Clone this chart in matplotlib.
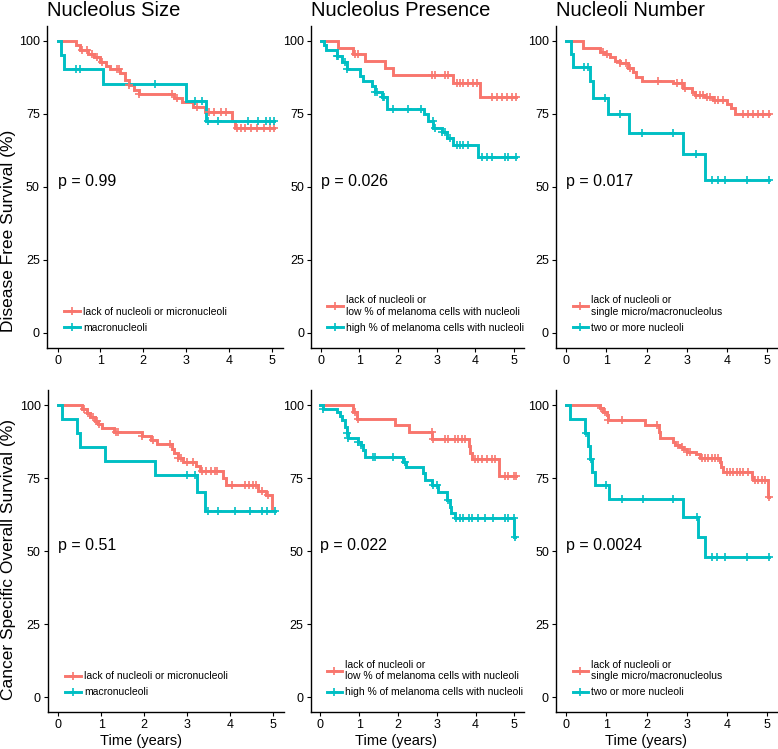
import matplotlib
matplotlib.use("Agg")
import matplotlib.pyplot as plt
from matplotlib.lines import Line2D
import numpy as np

plt.rcParams['font.family'] = ['Liberation Sans', 'DejaVu Sans']

RED = '#F8766D'
CYAN = '#00BFC4'

titles = ['Nucleolus Size', 'Nucleolus Presence', 'Nucleoli Number']
row_labels = ['Disease Free Survival (%)', 'Cancer Specific Overall Survival (%)']
pvals = ['p = 0.99', 'p = 0.026', 'p = 0.017', 'p = 0.51', 'p = 0.022', 'p = 0.0024']
legend_red = ['lack of nucleoli or micronucleoli',
              'lack of nucleoli or\nlow % of melanoma cells with nucleoli',
              'lack of nucleoli or\nsingle micro/macronucleolus']
legend_cyan = ['macronucleoli',
               'high % of melanoma cells with nucleoli',
               'two or more nucleoli']

# ---- Disease free survival ----
size_dfs_red_t = [0, 0.42, 0.53, 0.70, 0.85, 1.0, 1.12, 1.23, 1.46, 1.58, 1.66, 1.78, 1.89,
                  2.72, 2.9, 3.17, 3.45, 4.06, 4.14]
size_dfs_red_s = [100, 98.6, 97.0, 95.6, 94.4, 92.9, 91.5, 90.3, 88.9, 86.6, 84.9, 83.2, 81.8,
                  80.5, 79.0, 77.3, 75.6, 72.5, 70.0]
size_dfs_red_c = [0.57, 0.69, 0.81, 0.92, 1.04, 1.39, 1.43, 1.66, 1.9, 2.67, 2.79, 3.26, 3.53,
                  3.64, 3.8, 3.92, 4.19, 4.27, 4.38, 4.5, 4.65, 4.81, 4.96, 5.04]
size_dfs_cyan_t = [0, 0.09, 0.14, 1.06, 2.99, 3.46]
size_dfs_cyan_s = [100, 95.2, 90.5, 85.2, 79.5, 72.6]
size_dfs_cyan_c = [0.44, 0.53, 2.28, 3.2, 3.37, 3.52, 3.75, 4.45, 4.68, 4.87, 4.95, 5.05]

pres_dfs_red_t = [0, 0.46, 0.84, 1.15, 1.66, 1.88, 3.43, 4.12]
pres_dfs_red_s = [100, 97.7, 95.4, 93.0, 90.7, 88.4, 85.6, 80.9]
pres_dfs_red_c = [0.88, 0.97, 2.87, 2.96, 3.22, 3.3, 3.52, 3.6, 3.69, 3.82, 3.95, 4.03,
                  4.42, 4.55, 4.68, 4.81, 4.94, 5.05]
pres_dfs_cyan_t = [0, 0.09, 0.15, 0.41, 0.54, 0.67, 1.02, 1.10, 1.32, 1.40, 1.58, 1.71,
                   2.66, 2.78, 2.91, 3.13, 3.26, 3.43, 4.08]
pres_dfs_cyan_s = [100, 98.6, 96.7, 94.9, 92.9, 90.3, 87.8, 86.1, 84.4, 82.6, 80.9, 76.8,
                   75.0, 72.5, 70.0, 68.9, 66.6, 64.3, 60.3]
pres_dfs_cyan_c = [0.41, 0.46, 0.63, 0.68, 1.4, 1.45, 1.6, 1.65, 1.88, 2.27, 2.6, 2.9, 2.95,
                   3.13, 3.22, 3.35, 3.52, 3.6, 3.69, 3.82, 4.16, 4.29, 4.42, 4.77, 4.85, 5.05]

num_dfs_red_t = [0, 0.43, 0.84, 0.97, 1.09, 1.22, 1.34, 1.55, 1.67, 1.75, 1.88, 2.67, 2.91,
                 3.12, 3.2, 3.45, 3.66, 3.99, 4.11, 4.2]
num_dfs_red_s = [100, 97.5, 96.3, 95.5, 94.6, 93.2, 92.3, 90.6, 89.4, 87.7, 86.3, 85.4, 83.7,
                 82.5, 81.4, 80.6, 79.7, 78.5, 77.0, 75.0]
num_dfs_red_c = [0.93, 1.01, 1.34, 1.5, 1.59, 2.29, 2.75, 2.87, 2.95, 3.24, 3.33, 3.41, 3.49,
                 3.58, 3.7, 3.78, 3.91, 4.4, 4.53, 4.65, 4.78, 4.9, 5.05]
num_dfs_cyan_t = [0, 0.12, 0.17, 0.6, 0.68, 1.05, 1.57, 2.91, 3.45]
num_dfs_cyan_s = [100, 95.5, 90.9, 86.1, 80.4, 75.0, 68.6, 61.3, 52.4]
num_dfs_cyan_c = [0.45, 0.55, 0.97, 1.34, 1.88, 2.67, 3.24, 3.62, 3.78, 3.95, 4.49, 5.05]

# ---- Cancer specific overall survival ----
size_css_red_t = [0, 0.56, 0.66, 0.75, 0.85, 0.93, 1.02, 1.3, 1.95, 2.15, 2.3, 2.65, 2.7,
                  2.78, 2.9, 3.2, 3.3, 3.85, 3.92, 4.66, 4.85, 4.98]
size_css_red_s = [100, 98.6, 97.3, 96.0, 94.7, 93.4, 92.0, 90.7, 89.3, 87.9, 86.5, 85.0, 83.5,
                  82.0, 80.5, 79.0, 77.5, 75.0, 72.6, 70.5, 69.3, 64.5]
size_css_red_c = [0.6, 0.7, 0.8, 0.9, 0.95, 1.35, 1.4, 1.95, 2.2, 2.6, 2.8, 2.85, 3.0, 3.15,
                  3.35, 3.45, 3.55, 3.65, 3.7, 4.05, 4.35, 4.45, 4.55, 4.6, 4.75, 4.9]
size_css_cyan_t = [0, 0.08, 0.43, 0.5, 1.09, 2.25, 3.23, 3.43]
size_css_cyan_s = [100, 95.2, 90.5, 85.7, 81.0, 76.2, 70.3, 63.8]
size_css_cyan_c = [3.0, 3.19, 3.5, 3.73, 4.12, 4.47, 4.74, 4.86, 5.05]

pres_css_red_t = [0, 0.85, 0.95, 1.93, 2.28, 2.88, 3.82, 3.87, 3.92, 4.6]
pres_css_red_s = [100, 97.7, 95.3, 93.0, 90.7, 88.4, 86.0, 83.7, 81.4, 75.8]
pres_css_red_c = [0.9, 0.98, 2.87, 2.91, 3.21, 3.3, 3.47, 3.56, 3.64, 3.73, 3.99, 4.07, 4.16,
                  4.29, 4.42, 4.5, 4.76, 4.85, 4.98, 5.05]
pres_css_cyan_t = [0, 0.07, 0.42, 0.5, 0.55, 0.63, 0.68, 0.72, 0.98, 1.06, 1.11, 1.15, 2.14,
                   2.22, 2.65, 2.7, 2.87, 3.04, 3.26, 3.34, 3.38, 3.47, 5.0]
pres_css_cyan_s = [100, 98.6, 97.7, 96.4, 94.9, 92.6, 90.3, 88.6, 87.5, 86.3, 84.6, 82.3, 80.6,
                   78.9, 76.6, 74.3, 72.6, 70.3, 67.5, 65.2, 62.9, 61.4, 54.8]
pres_css_cyan_c = [0.07, 0.68, 0.72, 0.98, 1.06, 1.36, 1.42, 1.88, 2.18, 2.91, 3.0, 3.3, 3.51,
                   3.6, 3.69, 3.82, 3.9, 4.07, 4.25, 4.46, 4.76, 4.85, 4.98, 5.02]

num_css_red_t = [0, 0.84, 0.93, 1.01, 1.05, 1.95, 2.3, 2.34, 2.67, 2.71, 2.83, 2.91, 3.0,
                 3.24, 3.33, 3.82, 3.86, 3.91, 4.61, 4.65, 5.02]
num_css_red_s = [100, 99.0, 97.7, 96.6, 95.0, 93.2, 90.9, 88.8, 87.5, 86.3, 85.7, 84.9, 84.0,
                 83.1, 82.0, 80.6, 78.9, 77.2, 75.5, 74.3, 68.6]
num_css_red_c = [0.88, 0.97, 1.05, 1.38, 2.25, 2.79, 2.87, 3.0, 3.08, 3.37, 3.45, 3.53, 3.62,
                 3.7, 3.78, 3.99, 4.07, 4.15, 4.24, 4.32, 4.4, 4.53, 4.69, 4.78, 4.86, 4.94, 5.03]
num_css_cyan_t = [0, 0.1, 0.47, 0.55, 0.6, 0.65, 0.72, 1.08, 2.9, 3.27, 3.45]
num_css_cyan_s = [100, 95.2, 90.5, 86.0, 81.5, 77.0, 72.5, 67.8, 61.8, 54.9, 47.9]
num_css_cyan_c = [0.5, 0.62, 1.0, 1.38, 1.92, 2.67, 3.25, 3.62, 3.74, 3.95, 4.49, 5.05]

panels = [
    (size_dfs_red_t, size_dfs_red_s, size_dfs_red_c, size_dfs_cyan_t, size_dfs_cyan_s, size_dfs_cyan_c),
    (pres_dfs_red_t, pres_dfs_red_s, pres_dfs_red_c, pres_dfs_cyan_t, pres_dfs_cyan_s, pres_dfs_cyan_c),
    (num_dfs_red_t, num_dfs_red_s, num_dfs_red_c, num_dfs_cyan_t, num_dfs_cyan_s, num_dfs_cyan_c),
    (size_css_red_t, size_css_red_s, size_css_red_c, size_css_cyan_t, size_css_cyan_s, size_css_cyan_c),
    (pres_css_red_t, pres_css_red_s, pres_css_red_c, pres_css_cyan_t, pres_css_cyan_s, pres_css_cyan_c),
    (num_css_red_t, num_css_red_s, num_css_red_c, num_css_cyan_t, num_css_cyan_s, num_css_cyan_c),
]

W, H = 778, 749
# axes boxes in pixels: left, right, top, bottom
boxes = [(46.8, 282.7, 26.2, 347.6), (311.0, 523.7, 26.2, 347.6), (555.9, 777.4, 26.2, 347.6),
         (47.6, 283.5, 390.4, 711.9), (310.6, 524.0, 390.4, 711.9), (555.9, 777.4, 390.4, 711.9)]

fig = plt.figure(figsize=(W / 100, H / 100), dpi=100)


def draw_curve(ax, t, s, c, color):
    t = np.asarray(t, float)
    s = np.asarray(s, float)
    end = max(t[-1], max(c))
    ax.step(np.append(t, end), np.append(s, s[-1]), where='post', color=color,
            lw=2.1, solid_joinstyle='miter', zorder=3)
    idx = np.searchsorted(t, c, side='right') - 1
    ax.plot(c, s[idx], ls='none', marker='+', ms=6, mew=1.2, color=color, zorder=4)


for i, (box, data) in enumerate(zip(boxes, panels)):
    l, r, tp, bt = box
    ax = fig.add_axes([l / W, 1 - bt / H, (r - l) / W, (bt - tp) / H])
    rt, rs, rc, ct, cs, cc = data
    draw_curve(ax, rt, rs, rc, RED)
    draw_curve(ax, ct, cs, cc, CYAN)
    ax.set_xlim(-0.25, 5.25)
    ax.set_ylim(-5, 105)
    ax.set_xticks([0, 1, 2, 3, 4, 5])
    ax.set_yticks([0, 25, 50, 75, 100])
    for sp in ['top', 'right']:
        ax.spines[sp].set_visible(False)
    for sp in ['left', 'bottom']:
        ax.spines[sp].set_linewidth(1.0)
    ax.tick_params(length=3, width=0.8, labelsize=9, colors='black', pad=2)
    ax.text(0, 52, pvals[i], fontsize=11.5, va='center', ha='left')
    handles = [Line2D([], [], color=RED, lw=2.1, marker='+', ms=6, mew=1.2),
               Line2D([], [], color=CYAN, lw=2.1, marker='+', ms=6, mew=1.2)]
    ax.legend(handles, [legend_red[i % 3], legend_cyan[i % 3]], loc='lower left',
              bbox_to_anchor=(0.075, 0.045), frameon=False, fontsize=7.5, borderpad=0,
              borderaxespad=0, handlelength=1.5, handletextpad=0.3, labelspacing=0.6)
    if i < 3:
        fig.text(l / W, 1 - 16 / H, titles[i], fontsize=14.5, va='baseline', ha='left')

fig.text(9 / W, 1 - 231 / H, row_labels[0], rotation=90, fontsize=12.5, va='center', ha='center')
fig.text(9 / W, 1 - 560 / H, row_labels[1], rotation=90, fontsize=12.5, va='center', ha='center')
for xc in [141, 396, 646]:
    fig.text(xc / W, 1 - 741 / H, 'Time (years)', fontsize=10.5, va='center', ha='center')

fig.savefig('out.png', dpi=100)
